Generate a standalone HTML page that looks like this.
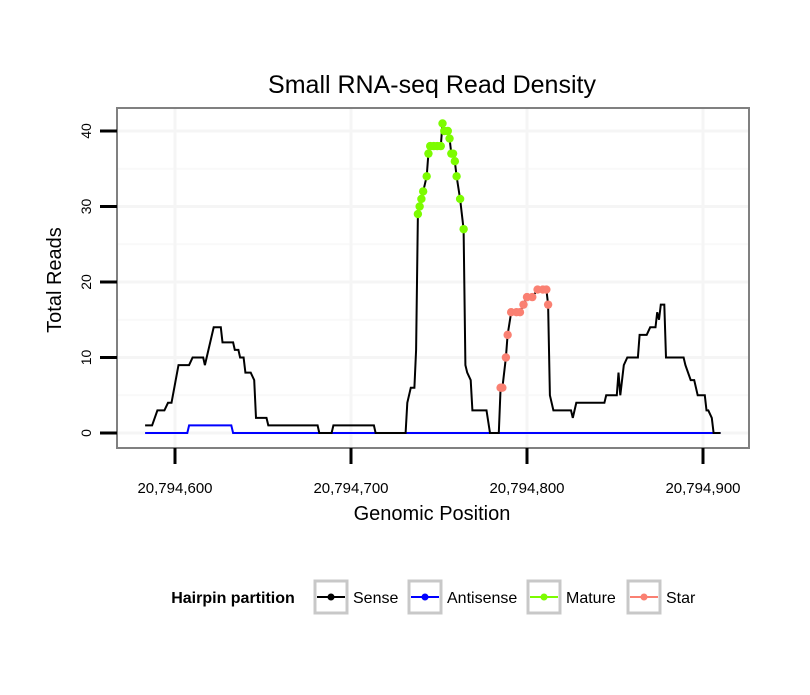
<!DOCTYPE html>
<html><head><meta charset="utf-8"><style>
body{margin:0;background:#fff;}
svg text{font-family:"Liberation Sans",sans-serif;}
</style></head><body>
<svg id="chart" width="810" height="690" viewBox="0 0 810 690" xmlns="http://www.w3.org/2000/svg">
<rect width="810" height="690" fill="#fff"/>
<text x="432" y="93" font-size="25" text-anchor="middle">Small RNA-seq Read Density</text>
<g id="grid"></g>
<g id="series"></g>
<rect x="117" y="108" width="632" height="340" fill="none" stroke="#808080" stroke-width="2"/>
<g id="axes"></g>
<text x="432" y="520" font-size="20" text-anchor="middle">Genomic Position</text>
<text transform="translate(61,280) rotate(-90)" font-size="20" text-anchor="middle">Total Reads</text>
<g>
<text x="233" y="603" font-size="16" font-weight="bold" text-anchor="middle">Hairpin partition</text>
<g>
<rect x="315" y="581" width="32" height="32" fill="#fff" stroke="#c8c8c8" stroke-width="3"/>
<line x1="317" y1="597" x2="345" y2="597" stroke="#000" stroke-width="2"/><circle cx="331" cy="597" r="3.5" fill="#000"/>
<text x="353" y="603" font-size="16">Sense</text></g>
<g>
<rect x="409" y="581" width="32" height="32" fill="#fff" stroke="#c8c8c8" stroke-width="3"/>
<line x1="411" y1="597" x2="439" y2="597" stroke="#0000ff" stroke-width="2"/><circle cx="425" cy="597" r="3.5" fill="#0000ff"/>
<text x="447" y="603" font-size="16">Antisense</text></g>
<g>
<rect x="528" y="581" width="32" height="32" fill="#fff" stroke="#c8c8c8" stroke-width="3"/>
<line x1="530" y1="597" x2="558" y2="597" stroke="#7cfc00" stroke-width="2"/><circle cx="544" cy="597" r="3.5" fill="#7cfc00"/>
<text x="566" y="603" font-size="16">Mature</text></g>
<g>
<rect x="628" y="581" width="32" height="32" fill="#fff" stroke="#c8c8c8" stroke-width="3"/>
<line x1="630" y1="597" x2="658" y2="597" stroke="#fa8072" stroke-width="2"/><circle cx="644" cy="597" r="3.5" fill="#fa8072"/>
<text x="666" y="603" font-size="16">Star</text></g>
</g>
</svg>
<script>
const BASE = 20794600;
const senseOffsets = [-17,-13,-10,-6,-4,-2,2,8,10,16,17,22,26,27,33,34,36,37,39,40,43,45,46,52,53,81,82,89,90,113,114,131,132,134,136,137,138,139,140,141,143,144,145,147,149,151,152,153,155,156,157,158,159,160,162,164,165,166,168,169,177,179,184,185,186,188,189,191,194,196,198,200,203,206,209,211,212,213,215,225,226,228,244,245,251,252,253,255,257,263,264,268,270,273,274,275,276,278,279,289,290,293,295,297,301,302,303,305,306,310];
const senseValues = [1,1,3,3,4,4,9,9,10,10,9,14,14,12,12,11,11,10,10,8,8,7,2,2,1,1,0,0,1,1,0,0,4,6,6,11,29,30,31,32,34,37,38,38,38,38,41,40,40,39,37,37,36,34,31,27,9,8,7,3,3,0,0,6,6,10,13,16,16,16,17,18,18,19,19,19,17,5,3,3,2,4,4,5,5,8,5,9,10,10,13,13,14,14,16,15,17,17,10,10,9,7,7,5,5,3,3,2,0,0];
const antisenseOffsets = [-17,7,8,32,33,310];
const antisenseValues = [0,0,1,1,0,0];
const matureRange = [138,164];
const starRange = [185,212];
const yTicks = [0,10,20,30,40];
const xTicks = [20794600,20794700,20794800,20794900];
const xTickLabels = ["20,794,600","20,794,700","20,794,800","20,794,900"];

const NS="http://www.w3.org/2000/svg";
const sx = p => 175 + (p - BASE) * 1.76;
const sy = v => 433 - v * 7.55;
function mk(tag, attrs, parent){const e=document.createElementNS(NS,tag);for(const k in attrs)e.setAttribute(k,attrs[k]);parent.appendChild(e);return e;}
const grid=document.getElementById('grid'), series=document.getElementById('series'), axes=document.getElementById('axes');
[5,15,25,35].forEach(v=>{const l=mk('line',{x1:117,x2:749,y1:sy(v),y2:sy(v),stroke:'#f9f9f9','stroke-width':2},grid);

});
[650,750,850].forEach(o=>{const l=mk('line',{x1:sx(BASE+o),x2:sx(BASE+o),y1:108,y2:448,stroke:'#f9f9f9','stroke-width':2},grid);

});
yTicks.forEach(v=>{const l=mk('line',{x1:117,x2:749,y1:sy(v),y2:sy(v),stroke:'#f5f5f5','stroke-width':3},grid);


const t=mk('line',{x1:100,x2:117,y1:sy(v),y2:sy(v),stroke:'#000','stroke-width':3},axes);


const tx=mk('text',{transform:`translate(91,${sy(v)}) rotate(-90)`,'font-size':14,'text-anchor':'middle'},axes);
tx.textContent=v;

});
xTicks.forEach((p,i)=>{const l=mk('line',{x1:sx(p),x2:sx(p),y1:108,y2:448,stroke:'#f5f5f5','stroke-width':3},grid);


const t=mk('line',{x1:sx(p),x2:sx(p),y1:448,y2:464,stroke:'#000','stroke-width':3},axes);


const tx=mk('text',{x:sx(p),y:493,'font-size':15,'text-anchor':'middle'},axes);
tx.textContent=xTickLabels[i];

});
function pts(offs,vals){return offs.map((o,i)=>sx(BASE+o).toFixed(1)+','+sy(vals[i]).toFixed(1)).join(' ');}
const anti=mk('polyline',{points:pts(antisenseOffsets,antisenseValues),fill:'none',stroke:'#0000ff','stroke-width':2},series);


const sense=mk('polyline',{points:pts(senseOffsets,senseValues),fill:'none',stroke:'#000','stroke-width':2},series);


senseOffsets.forEach((o,i)=>{
let col=null,nm=null;
if(o>=matureRange[0]&&o<=matureRange[1]){col='#7cfc00';nm='mature-point';}
else if(o>=starRange[0]&&o<=starRange[1]){col='#fa8072';nm='star-point';}
if(!col)return;
const c=mk('circle',{cx:sx(BASE+o),cy:sy(senseValues[i]),r:4.2,fill:col},series);

});
</script>
</body></html>
